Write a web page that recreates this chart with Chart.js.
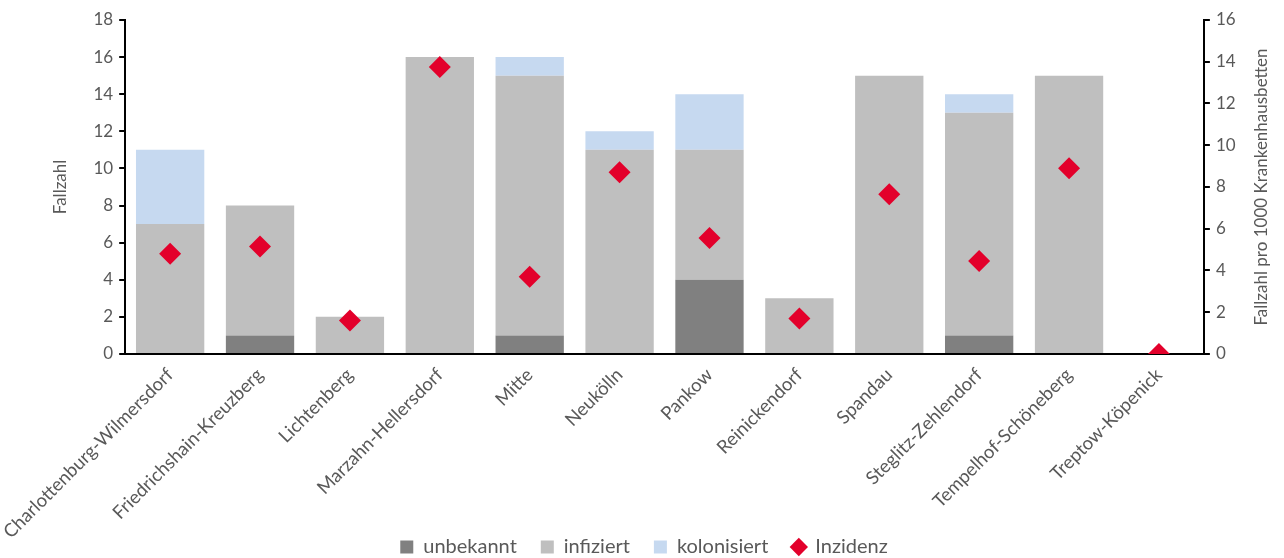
<!DOCTYPE html>
<html>
<head>
<meta charset="utf-8">
<script src="https://cdn.jsdelivr.net/npm/chart.js@4"></script>
<style>
  body { margin: 0; background: #fff; }
  #wrap { width: 1284px; height: 558px; }
</style>
</head>
<body>
<div id="wrap"><canvas id="chart"></canvas></div>
<script>
const bezirke = [
  "Charlottenburg-Wilmersdorf", "Friedrichshain-Kreuzberg", "Lichtenberg",
  "Marzahn-Hellersdorf", "Mitte", "Neukölln", "Pankow", "Reinickendorf",
  "Spandau", "Steglitz-Zehlendorf", "Tempelhof-Schöneberg", "Treptow-Köpenick"
];
const unbekannt   = [0, 1, 0, 0, 1, 0, 4, 0, 0, 1, 0, 0];
const infiziert   = [7, 7, 2, 16, 14, 11, 7, 3, 15, 12, 15, 0];
const kolonisiert = [4, 0, 0, 0, 1, 1, 3, 0, 0, 1, 0, 0];
const inzidenz    = [4.8, 5.15, 1.6, 13.75, 3.7, 8.7, 5.55, 1.7, 7.65, 4.45, 8.9, 0];

const grau = '#595959';
const schrift = { family: 'Lato', size: 17 };

// rechter Achsentitel liest von unten nach oben
const rechterTitel = {
  id: 'rechterTitel',
  afterDraw(chart) {
    const s = chart.scales.y2;
    const ctx = chart.ctx;
    ctx.save();
    ctx.translate(s.right - 18, (chart.chartArea.top + chart.chartArea.bottom) / 2);
    ctx.rotate(-Math.PI / 2);
    ctx.font = '17px Lato';
    ctx.fillStyle = grau;
    ctx.textAlign = 'center';
    ctx.textBaseline = 'middle';
    ctx.fillText('Fallzahl pro 1000 Krankenhausbetten', 0, 0);
    ctx.restore();
  }
};

// Legende flacher machen, Abstand zwischen Eintraegen bleibt
const legendeKnapp = {
  id: 'legendeKnapp',
  beforeInit(chart) {
    const fit = chart.legend.fit;
    chart.legend.fit = function () {
      fit.bind(chart.legend)();
      this.height -= 41;
    };
  },
  afterLayout(chart) {
    chart.legend.top -= 32;
    chart.legend.left -= 14;
    chart.legend.right -= 14;
  }
};

let graf = new Chart(document.getElementById('chart'), {
  type: 'bar',
  data: {
    labels: bezirke,
    datasets: [
      { label: 'unbekannt', data: unbekannt, backgroundColor: '#808080', pointStyle: 'rect', yAxisID: 'y', order: 1 },
      { label: 'infiziert', data: infiziert, backgroundColor: '#bfbfbf', pointStyle: 'rect', yAxisID: 'y', order: 1 },
      { label: 'kolonisiert', data: kolonisiert, backgroundColor: '#c6d9f0', pointStyle: 'rect', yAxisID: 'y', order: 1 },
      {
        type: 'line', label: 'Inzidenz', data: inzidenz, yAxisID: 'y2', order: 0,
        showLine: false, pointStyle: 'rectRot', pointRadius: 11, pointHoverRadius: 11,
        backgroundColor: '#e3002b', borderColor: '#e3002b', borderWidth: 0
      }
    ]
  },
  options: {
    responsive: true,
    maintainAspectRatio: false,
    animation: false,
    layout: { padding: { top: 20, right: 4, left: 36, bottom: 0 } },
    datasets: { bar: { categoryPercentage: 0.76, barPercentage: 1 } },
    plugins: {
      tooltip: { enabled: false },
      legend: {
        position: 'bottom',
        labels: {
          usePointStyle: true,
          boxWidth: 13, boxHeight: 13,
          color: grau, font: { family: 'Lato', size: 20 }, padding: 24,
          sort: (a, b) => a.datasetIndex - b.datasetIndex
        }
      }
    },
    scales: {
      x: {
        stacked: true,
        grid: { display: false },
        border: { color: '#000', width: 2 },
        ticks: { color: grau, font: { family: 'Lato', size: 18.5 }, minRotation: 45, maxRotation: 45, autoSkip: false, padding: 2 }
      },
      y: {
        stacked: true,
        position: 'left',
        min: 0, max: 18,
        grid: { drawOnChartArea: false, drawTicks: true, tickLength: 6, color: '#000', lineWidth: 2 },
        border: { color: '#000', width: 2 },
        ticks: { stepSize: 2, color: grau, font: schrift, padding: 6 },
        title: { display: true, text: 'Fallzahl', color: grau, font: schrift, padding: { bottom: 17 } }
      },
      y2: {
        position: 'right',
        min: 0, max: 16,
        grid: { drawOnChartArea: false, drawTicks: true, tickLength: 6, color: '#000', lineWidth: 2 },
        border: { color: '#000', width: 2 },
        ticks: { stepSize: 2, color: grau, font: schrift, padding: 6 },
        title: { display: true, text: 'Fallzahl pro 1000 Krankenhausbetten', color: 'rgba(0,0,0,0)', font: schrift, padding: { top: 14 } }
      }
    }
  },
  plugins: [rechterTitel, legendeKnapp]
});
</script>
</body>
</html>
